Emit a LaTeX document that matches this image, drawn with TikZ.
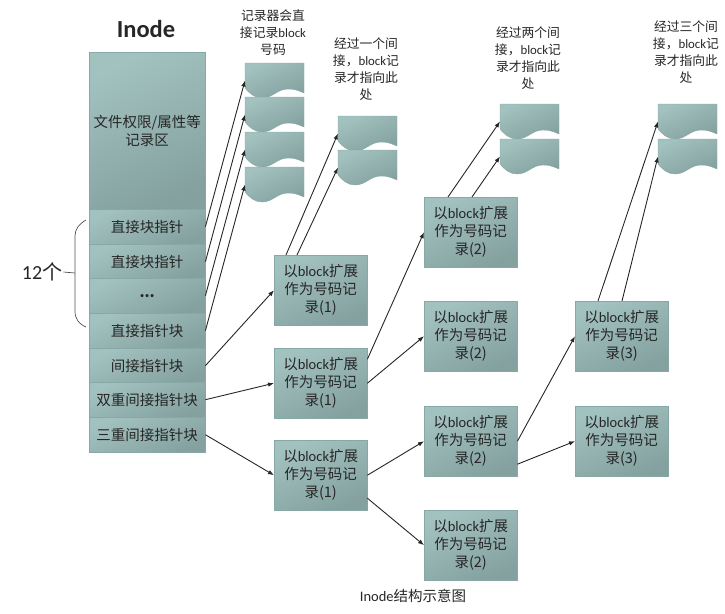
\documentclass[tikz,border=0pt]{standalone}
\usepackage{fontspec}
\usetikzlibrary{arrows.meta}
\setmainfont{Noto Sans CJK SC}
\newfontfamily\latinfont{Carlito}
\definecolor{teallight}{HTML}{A2C2BF}
\definecolor{tealdark}{HTML}{84A19F}
\definecolor{tealedge}{HTML}{86A8A6}
\definecolor{inktext}{HTML}{262626}
\tikzset{
	tealfill/.style={draw=tealedge,top color=teallight,bottom color=tealdark,shading angle=25},
	inodecell/.style={tealfill,anchor=north west,minimum width=116,inner sep=0,text=inktext,align=center,font=\fontsize{14.5}{18}\selectfont},
	recbox/.style={tealfill,anchor=north west,minimum width=93,minimum height=70,inner sep=0,text=inktext,align=center,font=\fontsize{14.5}{18}\selectfont},
	docspot/.style={anchor=north west,minimum width=59,minimum height=35,inner sep=0,outer sep=0},
	notetext/.style={text=inktext,align=center,font=\fontsize{12.8}{17}\selectfont},
	pointer/.style={draw=inktext,line width=0.9pt,-{Latex[length=6pt,width=4.5pt]}}
}
\newcommand{\blockdoc}[3]{
	\node [docspot] (#1) at (#2,#3) {};
	\begin{scope}[shift={(#1.north west)}]
		\path [tealfill] (0,0) -- (59,0) -- (59,30) .. controls (52,27) and (49,26) .. (43,26)
			.. controls (32,26) and (28,35) .. (17,35) .. controls (10,35) and (5,31) .. (0,25) -- cycle;
	\end{scope}
}
\begin{document}
\begin{tikzpicture}[x=1pt,y=-1pt]
\useasboundingbox (0,0) rectangle (725,613);
\node [font=\latinfont\bfseries\fontsize{24.5}{28}\selectfont,text=inktext] (title) at (146,29) {Inode};

\node [inodecell,minimum height=157] (area) at (89,52) {文件权限/属性等\\记录区};
\node [inodecell,minimum height=35] (dira) at (89,209) {直接块指针};
\node [inodecell,minimum height=35] (dirb) at (89,244) {直接块指针};
\node [inodecell,minimum height=35] (dirc) at (89,278) {\bfseries ...};
\node [inodecell,minimum height=35] (dird) at (89,313) {直接指针块};
\node [inodecell,minimum height=35] (ind) at (89,348) {间接指针块};
\node [inodecell,minimum height=35] (dbl) at (89,382) {双重间接指针块};
\node [inodecell,minimum height=35] (tri) at (89,417) {三重间接指针块};

\coordinate (bracetop) at (86,220);
\coordinate (bracebot) at (86,327);
\coordinate (bracemid) at (75,273);
\node [text=inktext,font=\fontsize{20}{22}\selectfont,inner sep=1pt] (count) at (42,272) {\latinfont 12\normalfont 个};
\draw [inktext!80,line width=0.7pt] (bracetop) .. controls (79,224) and (75,229) .. (75,236) -- (bracemid) -- (75,311) .. controls (75,319) and (79,324) .. (bracebot);
\draw [inktext!80,line width=0.7pt] (count.east) -- (bracemid);

\blockdoc{doca}{245}{63}
\blockdoc{docb}{245}{97}
\blockdoc{docc}{245}{132}
\blockdoc{docd}{245}{167}
\blockdoc{doce}{338}{116}
\blockdoc{docf}{338}{150}
\blockdoc{docg}{500}{104}
\blockdoc{doch}{500}{139}
\blockdoc{doci}{658}{104}
\blockdoc{docj}{658}{139}

\node [notetext] (notea) at (273,33) {记录器会直\\接记录{\latinfont block}\\号码};
\node [notetext] (noteb) at (366,69) {经过一个间\\接，{\latinfont block}记\\录才指向此\\处};
\node [notetext] (notec) at (528,58) {经过两个间\\接，{\latinfont block}记\\录才指向此\\处};
\node [notetext] (noted) at (686,52) {经过三个间\\接，{\latinfont block}记\\录才指向此\\处};

\node [recbox] (reca) at (274,255) {以{\latinfont block}扩展\\作为号码记\\录(1)};
\node [recbox] (recb) at (274,348) {以{\latinfont block}扩展\\作为号码记\\录(1)};
\node [recbox] (recc) at (274,440) {以{\latinfont block}扩展\\作为号码记\\录(1)};
\node [recbox] (recd) at (424,197) {以{\latinfont block}扩展\\作为号码记\\录(2)};
\node [recbox] (rece) at (424,301) {以{\latinfont block}扩展\\作为号码记\\录(2)};
\node [recbox] (recf) at (424,406) {以{\latinfont block}扩展\\作为号码记\\录(2)};
\node [recbox] (recg) at (424,510) {以{\latinfont block}扩展\\作为号码记\\录(2)};
\node [recbox] (rech) at (575,301) {以{\latinfont block}扩展\\作为号码记\\录(3)};
\node [recbox] (reci) at (575,406) {以{\latinfont block}扩展\\作为号码记\\录(3)};

\draw [pointer] (dira.east) -- (doca.west);
\draw [pointer] (dirb.east) -- (docb.west);
\draw [pointer] (dirc.east) -- (docc.west);
\draw [pointer] (dird.east) -- (docd.west);
\draw [pointer] (ind.east) -- (reca.west);
\draw [pointer] (dbl.east) -- (recb.west);
\draw [pointer] (tri.east) -- (recc.west);
\draw [pointer] ([xshift=12pt]reca.north west) -- (doce.west);
\draw [pointer] ([xshift=23pt]reca.north west) -- (docf.west);
\draw [pointer] ([yshift=24pt]recb.east) -- (recd.west);
\draw [pointer] (recb.east) -- (rece.west);
\draw [pointer] (recc.east) -- (recf.west);
\draw [pointer] ([yshift=-23pt]recc.east) -- (recg.west);
\draw [pointer] ([xshift=24pt]recd.north west) -- (docg.west);
\draw [pointer] ([xshift=48pt]recd.north west) -- (doch.west);
\draw [pointer] (recf.east) -- (rech.west);
\draw [pointer] ([yshift=-23pt]recf.east) -- (reci.west);
\draw [pointer] ([xshift=23pt]rech.north west) -- (doci.west);
\draw [pointer] ([xshift=47pt]rech.north west) -- (docj.west);

\node [text=inktext,font=\fontsize{14.5}{17}\selectfont] (caption) at (413,596) {{\latinfont Inode}结构示意图};
\end{tikzpicture}
\end{document}
